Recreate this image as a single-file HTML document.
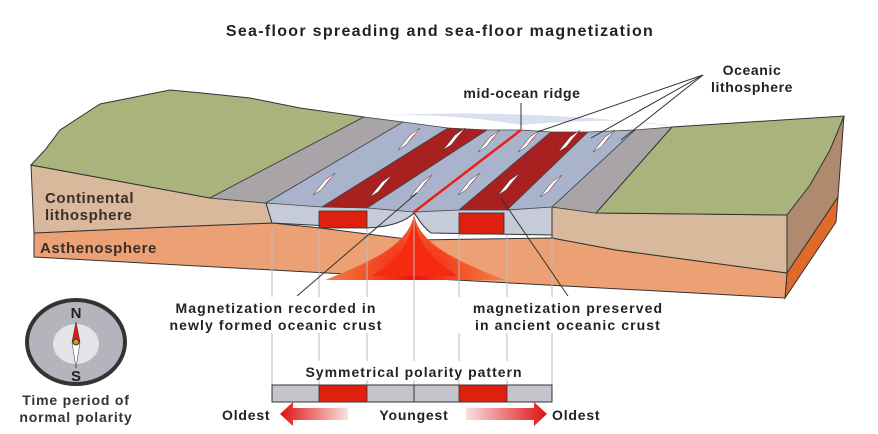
<!DOCTYPE html>
<html><head><meta charset="utf-8"><style>
html,body{margin:0;padding:0;background:#fff;}
svg{display:block;}
text{font-family:"Liberation Sans",Arial,sans-serif;font-weight:bold;}
</style></head><body>
<svg width="878" height="434" viewBox="0 0 878 434" xmlns="http://www.w3.org/2000/svg">
<defs>
<radialGradient id="plume" cx="414" cy="280" r="90" gradientUnits="userSpaceOnUse">
<stop offset="0" stop-color="#f01010"/><stop offset="0.6" stop-color="#f55a2a"/><stop offset="1" stop-color="#f08050"/>
</radialGradient>
<linearGradient id="la" x1="0" x2="1"><stop offset="0" stop-color="#e01010"/><stop offset="1" stop-color="#f8e0e0"/></linearGradient>
<linearGradient id="ra" x1="0" x2="1"><stop offset="0" stop-color="#f8e0e0"/><stop offset="1" stop-color="#e01010"/></linearGradient>
</defs>
<text x="440" y="36" font-size="16" letter-spacing="1.3" text-anchor="middle" fill="#222">Sea-floor spreading and sea-floor magnetization</text>

<polygon points="787,215 844,116 838,197 787,273" fill="#b08a6e" stroke="#333" stroke-width="1"/>
<polygon points="787,273 838,197 836,222 785,298" fill="#e06a28" stroke="#333" stroke-width="1"/>
<polygon points="34,233 168,227 272,223 320,228 414,240 552,238 616,250 787,273 785,298 34,257" fill="#eba174" stroke="#333" stroke-width="1"/>
<polygon points="31,165 210,198 266,203 272,223 168,227 34,233" fill="#d9b99c" stroke="#333" stroke-width="1"/>
<polygon points="552,207 596,213 787,215 787,273 616,250 552,238" fill="#d9b99c" stroke="#333" stroke-width="1"/>
<path d="M414,213 C410,245 370,262 325,280 L505,280 C460,262 418,245 414,213Z" fill="url(#plume)"/>
<path d="M414,213 C412,245 395,262 372,276 L458,276 C435,262 416,245 414,213Z" fill="#f52a10"/>
<path d="M266,203 L552,207 L552,235 L431,233 C420,225 416,214 414,213 C412,214 405,226 367,228 L272,223Z" fill="#c6cbd8" stroke="#333" stroke-width="1"/>
<rect x="319" y="211" width="48" height="17" fill="#e0200e" stroke="#333" stroke-width="0.8"/>
<rect x="459" y="213" width="45" height="21" fill="#e0200e" stroke="#333" stroke-width="0.8"/>
<polygon points="31,165 45,150 60,130 100,104 140,96 170,90 202,93 250,98 300,108 364,117 210,198" fill="#a8b47c" stroke="#333" stroke-width="1"/>
<polygon points="364,117 403,122 266,203 210,198" fill="#a8a4a8" stroke="#444" stroke-width="0.8"/>
<polygon points="403,122 448,128 322,207 266,203" fill="#a9b4cc" stroke="#444" stroke-width="0.8"/>
<polygon points="448,128 487,130 367,208 322,207" fill="#a82020" stroke="#444" stroke-width="0.8"/>
<polygon points="487,130 521,130 414,212 367,208" fill="#a9b4cc" stroke="#444" stroke-width="0.8"/>
<polygon points="521,130 551,132 459,210 414,212" fill="#a9b4cc" stroke="#444" stroke-width="0.8"/>
<polygon points="551,132 588,132 507,210 459,210" fill="#a82020" stroke="#444" stroke-width="0.8"/>
<polygon points="588,132 635,130 552,207 507,210" fill="#a9b4cc" stroke="#444" stroke-width="0.8"/>
<polygon points="635,130 672,127 596,213 552,207" fill="#a8a4a8" stroke="#444" stroke-width="0.8"/>
<polygon points="672,127 844,116 830,150 810,185 787,215 596,213" fill="#a8b47c" stroke="#333" stroke-width="1"/>
<path d="M364,117 C420,112 480,118 521,125 C580,120 640,118 672,127 C620,118 470,108 364,117Z" fill="#d8e0ee"/>
<line x1="521" y1="130" x2="414" y2="212" stroke="#e82018" stroke-width="2.5"/>
<g fill="#fff" stroke="#333" stroke-width="0.5">
<polygon points="410,135 420,128 406,145 398,150"/><polygon points="455,135 465,128 451,145 443,150"/>
<polygon points="490,137 500,130 486,147 478,152"/><polygon points="530,137 540,130 526,147 518,152"/>
<polygon points="570,137 580,130 566,147 558,152"/><polygon points="605,137 615,130 601,147 593,152"/>
<polygon points="325,180 335,173 321,190 313,195"/><polygon points="382,182 392,175 378,192 370,197"/>
<polygon points="422,182 432,175 418,192 410,197"/><polygon points="470,180 480,173 466,190 458,195"/>
<polygon points="510,180 520,173 506,190 498,195"/><polygon points="552,182 562,175 548,192 540,197"/>
</g>
<g fill="#e01818">
<polygon points="420,128 406,145 412,137"/><polygon points="465,128 451,145 457,137"/>
<polygon points="500,130 486,147 492,139"/><polygon points="540,130 526,147 532,139"/>
<polygon points="580,130 566,147 572,139"/><polygon points="615,130 601,147 607,139"/>
<polygon points="335,173 321,190 327,182"/><polygon points="392,175 378,192 384,184"/>
<polygon points="432,175 418,192 424,184"/><polygon points="480,173 466,190 472,182"/>
<polygon points="520,173 506,190 512,182"/><polygon points="562,175 548,192 554,184"/>
</g>
<text x="45" y="203" font-size="15" letter-spacing="0.6" fill="#3a2e2a">Continental</text>
<text x="45" y="220" font-size="15" letter-spacing="0.6" fill="#3a2e2a">lithosphere</text>
<text x="40" y="253" font-size="15" letter-spacing="0.6" fill="#3a2e2a">Asthenosphere</text>
<text x="522" y="98" font-size="14" letter-spacing="0.6" text-anchor="middle" fill="#222">mid-ocean ridge</text>
<line x1="521" y1="103" x2="521" y2="129" stroke="#333" stroke-width="1"/>
<text x="752" y="75" font-size="14" letter-spacing="0.6" text-anchor="middle" fill="#222">Oceanic</text>
<text x="752" y="92" font-size="14" letter-spacing="0.6" text-anchor="middle" fill="#222">lithosphere</text>
<g stroke="#333" stroke-width="1"><line x1="703" y1="75" x2="537" y2="132"/><line x1="703" y1="75" x2="591" y2="138"/><line x1="703" y1="75" x2="621" y2="140"/></g>
<g stroke="#bbb" stroke-width="1">
<line x1="272" y1="225" x2="272" y2="385"/><line x1="319" y1="229" x2="319" y2="385"/><line x1="367" y1="229" x2="367" y2="385"/>
<line x1="414" y1="215" x2="414" y2="385"/><line x1="459" y1="235" x2="459" y2="385"/><line x1="507" y1="235" x2="507" y2="385"/><line x1="552" y1="238" x2="552" y2="385"/>
</g>
<line x1="417" y1="193" x2="297" y2="296" stroke="#333" stroke-width="1"/>
<line x1="501" y1="198" x2="568" y2="296" stroke="#333" stroke-width="1"/>
<rect x="168" y="297" width="224" height="36" fill="#fff"/>
<rect x="455" y="297" width="226" height="36" fill="#fff"/>
<text x="276" y="313" font-size="14" letter-spacing="1.1" text-anchor="middle" fill="#222">Magnetization recorded in</text>
<text x="276" y="330" font-size="14" letter-spacing="1.1" text-anchor="middle" fill="#222">newly formed oceanic crust</text>
<text x="568" y="313" font-size="14" letter-spacing="1.1" text-anchor="middle" fill="#222">magnetization preserved</text>
<text x="568" y="330" font-size="14" letter-spacing="1.1" text-anchor="middle" fill="#222">in ancient oceanic crust</text>
<rect x="300" y="361" width="230" height="19" fill="#fff"/>
<text x="414" y="377" font-size="14" letter-spacing="1" text-anchor="middle" fill="#222">Symmetrical polarity pattern</text>
<rect x="272" y="385" width="280" height="17" fill="#c4c4cc" stroke="#333" stroke-width="1"/>
<rect x="319" y="385" width="48" height="17" fill="#e0200e" stroke="#333" stroke-width="0.8"/>
<rect x="459" y="385" width="48" height="17" fill="#e0200e" stroke="#333" stroke-width="0.8"/>
<line x1="414" y1="385" x2="414" y2="402" stroke="#333"/>
<text x="222" y="420" font-size="14" letter-spacing="0.8" fill="#222">Oldest</text>
<polygon points="280,414 293,402 293,408 348,408 348,420 293,420 293,426" fill="url(#la)"/>
<text x="414" y="420" font-size="14" letter-spacing="0.8" text-anchor="middle" fill="#222">Youngest</text>
<polygon points="547,414 534,402 534,408 466,408 466,420 534,420 534,426" fill="url(#ra)"/>
<text x="552" y="420" font-size="14" letter-spacing="0.8" fill="#222">Oldest</text>
<ellipse cx="76" cy="342" rx="49" ry="42" fill="#b4b4bc" stroke="#333" stroke-width="4"/>
<ellipse cx="76" cy="344" rx="23" ry="20" fill="#e4e4e8"/>
<polygon points="76,322 80,342 72,342" fill="#e01818" stroke="#333" stroke-width="0.5"/>
<polygon points="72,342 80,342 76,368" fill="#fff" stroke="#333" stroke-width="0.5"/>
<circle cx="76" cy="342" r="3" fill="#c8a020" stroke="#333" stroke-width="1"/>
<text x="76" y="318" font-size="15" text-anchor="middle" fill="#222">N</text>
<text x="76" y="381" font-size="15" text-anchor="middle" fill="#222">S</text>
<text x="76" y="405" font-size="14" letter-spacing="0.8" text-anchor="middle" fill="#333">Time period of</text>
<text x="76" y="422" font-size="14" letter-spacing="0.8" text-anchor="middle" fill="#333">normal polarity</text>
</svg>
</body></html>
